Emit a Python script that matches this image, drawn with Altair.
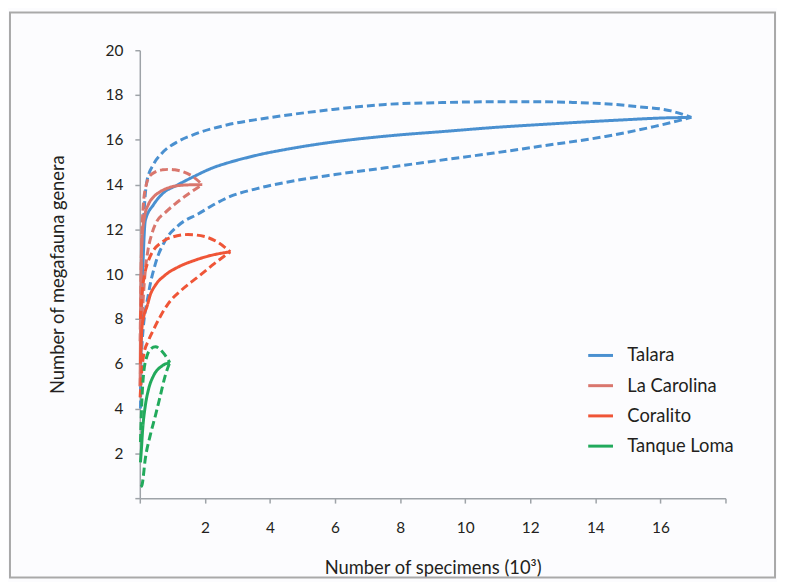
import altair as alt
import pandas as pd

sites = ["Talara", "La Carolina", "Coralito", "Tanque Loma"]
colors = ["#4a90d0", "#d9766d", "#ef5537", "#22aa5c"]
kinds = ["mean", "upper", "lower"]

x_ticks = [0, 2, 4, 6, 8, 10, 12, 14, 16, 18]
y_ticks = [0, 2, 4, 6, 8, 10, 12, 14, 16, 18, 20]

# Talara
talara_mean_x = [0.02, 0.05, 0.1, 0.17, 0.42, 0.68, 1.18, 1.69, 2.19, 2.7, 3.2, 3.71, 4.41, 5.93, 7.83, 9.41, 10.88, 12.29, 14.72, 16.18, 16.95]
talara_mean_y = [4.5, 8.0, 10.5, 12.4, 13.1, 13.57, 14.0, 14.38, 14.72, 14.97, 15.17, 15.35, 15.55, 15.9, 16.2, 16.38, 16.55, 16.68, 16.88, 16.98, 17.0]
talara_up_x = [0.02, 0.08, 0.15, 0.22, 0.42, 0.68, 1.18, 1.69, 2.7, 3.71, 4.41, 5.9, 7.55, 9.2, 10.88, 12.3, 13.3, 14.4, 15.3, 16.33, 16.95]
talara_up_y = [6.0, 11.0, 13.2, 14.16, 14.9, 15.4, 15.93, 16.25, 16.67, 16.93, 17.08, 17.35, 17.58, 17.66, 17.7, 17.7, 17.67, 17.6, 17.48, 17.29, 17.0]
talara_lo_x = [0.02, 0.07, 0.27, 0.48, 0.78, 1.18, 1.79, 2.7, 3.71, 4.41, 6.0, 7.55, 9.2, 10.88, 12.29, 14.31, 15.83, 16.95]
talara_lo_y = [4.0, 6.93, 9.15, 10.47, 11.5, 12.17, 12.69, 13.42, 13.86, 14.08, 14.45, 14.75, 15.08, 15.41, 15.71, 16.15, 16.6, 17.0]

# La Carolina
carolina_mean_x = [0.01, 0.03, 0.07, 0.15, 0.27, 0.42, 0.58, 0.78, 0.98, 1.38, 1.92]
carolina_mean_y = [5.0, 9.0, 11.6, 12.6, 13.13, 13.45, 13.64, 13.8, 13.9, 13.98, 14.0]
carolina_up_x = [0.01, 0.05, 0.12, 0.2, 0.27, 0.48, 0.7, 0.88, 1.08, 1.28, 1.64, 1.92]
carolina_up_y = [7.0, 11.0, 13.3, 14.0, 14.3, 14.57, 14.66, 14.68, 14.66, 14.6, 14.35, 14.0]
carolina_lo_x = [0.01, 0.05, 0.1, 0.17, 0.25, 0.37, 0.52, 0.78, 1.08, 1.48, 1.92]
carolina_lo_y = [5.0, 7.5, 8.8, 10.18, 11.06, 11.8, 12.35, 12.75, 13.13, 13.57, 14.0]

# Coralito
coralito_mean_x = [0.02, 0.06, 0.12, 0.22, 0.32, 0.48, 0.78, 1.18, 1.69, 2.19, 2.78]
coralito_mean_y = [6.0, 7.5, 8.1, 8.55, 9.07, 9.51, 9.96, 10.32, 10.62, 10.84, 11.0]
coralito_up_x = [0.02, 0.08, 0.15, 0.27, 0.42, 0.68, 0.98, 1.48, 1.99, 2.39, 2.78]
coralito_up_y = [8.0, 9.3, 10.0, 10.62, 11.06, 11.43, 11.65, 11.77, 11.68, 11.43, 11.0]
coralito_lo_x = [0.01, 0.05, 0.12, 0.27, 0.42, 0.63, 0.88, 1.28, 1.79, 2.29, 2.78]
coralito_lo_y = [4.5, 5.5, 6.4, 7.05, 7.52, 8.11, 8.7, 9.29, 9.88, 10.47, 11.0]

# Tanque Loma
tanque_mean_x = [0.02, 0.05, 0.09, 0.17, 0.27, 0.42, 0.68, 0.92]
tanque_mean_y = [1.6, 2.2, 3.1, 4.13, 4.87, 5.46, 5.9, 6.05]
tanque_up_x = [0.02, 0.07, 0.12, 0.22, 0.32, 0.48, 0.68, 0.83, 0.92]
tanque_up_y = [2.5, 4.57, 5.6, 6.34, 6.64, 6.76, 6.56, 6.27, 6.05]
tanque_lo_x = [0.03, 0.07, 0.17, 0.32, 0.48, 0.63, 0.78, 0.92]
tanque_lo_y = [0.5, 0.6, 1.77, 2.8, 3.69, 4.57, 5.46, 6.05]

series = [
    ("Talara", "upper", talara_up_x, talara_up_y),
    ("Talara", "lower", talara_lo_x, talara_lo_y),
    ("Talara", "mean", talara_mean_x, talara_mean_y),
    ("La Carolina", "upper", carolina_up_x, carolina_up_y),
    ("La Carolina", "lower", carolina_lo_x, carolina_lo_y),
    ("La Carolina", "mean", carolina_mean_x, carolina_mean_y),
    ("Coralito", "upper", coralito_up_x, coralito_up_y),
    ("Coralito", "lower", coralito_lo_x, coralito_lo_y),
    ("Coralito", "mean", coralito_mean_x, coralito_mean_y),
    ("Tanque Loma", "upper", tanque_up_x, tanque_up_y),
    ("Tanque Loma", "lower", tanque_lo_x, tanque_lo_y),
    ("Tanque Loma", "mean", tanque_mean_x, tanque_mean_y),
]

rows = []
for site, kind, xs, ys in series:
    for i, (a, b) in enumerate(zip(xs, ys)):
        rows.append({"site": site, "kind": kind, "key": site + "-" + kind, "x": a, "y": b, "order": i})
df = pd.DataFrame(rows)

FONT = "Lato"
TEXT = "#231f20"
AXIS = "#9ea3a8"

x_enc = alt.X(
    "x:Q",
    scale=alt.Scale(domain=[0, 18], nice=False, zero=True),
    axis=alt.Axis(
        values=x_ticks,
        labelExpr="datum.value == 0 || datum.value == 18 ? '' : datum.label",
        title="Number of specimens (10³)",
        grid=False,
        tickSize=5,
        labelPadding=18,
        titlePadding=23,
    ),
)
y_enc = alt.Y(
    "y:Q",
    scale=alt.Scale(domain=[0, 20], nice=False),
    axis=alt.Axis(
        values=y_ticks,
        labelExpr="datum.value == 0 ? '' : datum.label",
        title="Number of  megafauna genera",
        grid=False,
        tickSize=5,
        labelPadding=12,
        titlePadding=38,
    ),
)
color_enc = alt.Color(
    "site:N",
    scale=alt.Scale(domain=sites, range=colors),
    legend=alt.Legend(
        title=None,
        orient="none",
        legendX=451,
        legendY=294,
        symbolType="stroke",
        symbolSize=625,
        symbolStrokeWidth=3,
        labelFont=FONT,
        labelFontSize=18.5,
        labelColor=TEXT,
        labelOffset=13,
        rowPadding=6.5,
        padding=0,
    ),
)

lines = alt.Chart(df).mark_line(strokeWidth=3, interpolate="monotone").encode(
    x=x_enc,
    y=y_enc,
    color=color_enc,
    strokeDash=alt.StrokeDash(
        "kind:N",
        scale=alt.Scale(domain=kinds, range=[[1, 0], [8, 4], [8, 4]]),
        legend=None,
    ),
    detail="key:N",
    order="order:Q",
)

frame = alt.Chart(pd.DataFrame({"a": [0]})).mark_rect(
    fill="transparent", stroke="#a9a9a9", strokeWidth=2
).encode(x=alt.value(-131), x2=alt.value(641), y=alt.value(-38), y2=alt.value(532))

chart = alt.layer(frame, lines).properties(
    width=591,
    height=452,
    padding={"left": 133, "top": 40, "right": 52, "bottom": 82},
    autosize=alt.AutoSizeParams(type="none"),
    background="#fcfcfe",
).configure_view(stroke=None).configure_axis(
    domainColor=AXIS,
    tickColor=AXIS,
    domainWidth=1.5,
    tickWidth=1.5,
    labelFont=FONT,
    labelFontSize=15.5,
    labelColor=TEXT,
    titleFont=FONT,
    titleFontSize=18.5,
    titleFontWeight="normal",
    titleColor=TEXT,
)

chart.save("out.html", embed_options={"renderer": "svg", "actions": False})
